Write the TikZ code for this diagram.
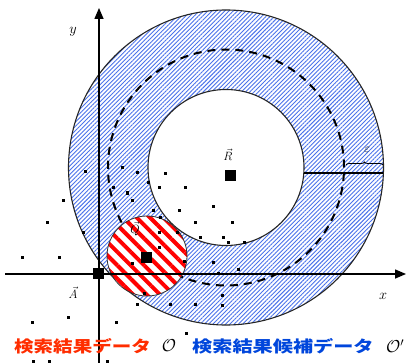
\documentclass[tikz,border=0pt]{standalone}
\usepackage{fontspec}
\usepackage{graphicx}
\usetikzlibrary{patterns.meta,arrows.meta,decorations.pathreplacing}
\newfontfamily\cjk{Noto Sans CJK JP}
\definecolor{hatchblue}{RGB}{75,115,235}
\definecolor{txtred}{RGB}{255,45,0}
\definecolor{txtblue}{RGB}{0,70,220}
\tikzset{
  ringline/.style={draw=black!85, line width=1.1pt},
  dotmark/.style={rectangle, fill=black, minimum size=3pt, inner sep=0pt},
  bigmark/.style={rectangle, fill=black, minimum size=11pt, inner sep=0pt},
  axis/.style={line width=1.5pt, -{Triangle[length=11pt,width=9pt]}},
  vlabel/.style={inner sep=0pt, font=\fontsize{13}{15}\selectfont},
  jptext/.style={anchor=west, inner sep=0pt, font=\fontsize{16}{18}\selectfont\cjk\bfseries},
}
\begin{document}
\begin{tikzpicture}[x=1pt,y=-1pt]
\useasboundingbox (0,0) rectangle (406,363);
\fill[white] (0,0) rectangle (406,363);
\coordinate (C) at (226,167.5);
% ring
\path[pattern={Lines[angle=45,distance=3pt,line width=0.9pt]}, pattern color=hatchblue, even odd rule]
  (C) circle[radius=157.5pt] (C) circle[radius=78pt];
\draw[ringline] (C) circle[radius=157.5pt];
\draw[ringline] (C) circle[radius=78pt];
\draw[line width=2pt, dash pattern=on 8pt off 6pt] (C) circle[radius=118pt];
% epsilon segment
\coordinate (ein) at (304,173);
\coordinate (eout) at (383,173);
\draw[line width=2pt] (ein) -- (eout);
\coordinate (bl) at (346,165);
\coordinate (br) at (383,165);
\draw[line width=0.8pt, decorate, decoration={brace, amplitude=3pt}] (bl) -- (br);
\node[vlabel] (eps) at (367,150) {$\varepsilon$};
% Q circle
\coordinate (QC) at (147,256);
\fill[white] (QC) circle[radius=40pt];
\path[pattern={Lines[angle=-45,distance=9.5pt,line width=4pt]}, pattern color=red] (QC) circle[radius=40pt];
\draw[line width=0.8pt, black!80] (QC) circle[radius=40pt];
% axes
\coordinate (xs) at (5,274);
\coordinate (xe) at (406,274);
\coordinate (ys) at (99,363);
\coordinate (ye) at (99,8);
\draw[axis] (xs) -- (xe);
\draw[axis] (ys) -- (ye);
\node[vlabel, font=\fontsize{14}{16}\selectfont] (ylab) at (73,32) {$y$};
\node[vlabel, font=\fontsize{14}{16}\selectfont] (xlab) at (383,296) {$x$};
% dots
\foreach \px/\py [count=\i] in {22/257,59/257,47/222,63/200,83/232,85/172,
  32/322,68/317,116/322,33/361,49/361,107/361,
  137/304,144/293,170/304,195/304,222/295,222/305,186/333,
  132/263,159/247,184/261,213/262,218/273,238/269,
  122/168,137/173,113/188,127/193,132/200,148/183,153/210,160/217,159/188,165/174,
  185/188,179/210,213/206,195/222,232/222,159/232,177/232,200/237,223/237,228/242,244/242}
  \node[dotmark] (d\i) at (\px,\py) {};
% big marks
\node[bigmark] (A) at (98,273) {};
\node[bigmark] (Q) at (146,257) {};
\node[bigmark] (R) at (230,176) {};
\node[vlabel] (Alab) at (73,293) {$\vec{A}$};
\node[vlabel] (Qlab) at (135,229) {$\vec{Q}$};
\node[vlabel] (Rlab) at (228,155) {$\vec{R}$};
% legend
\node[jptext, text=txtred] (t1) at (14,346) {\scalebox{1.22}[1]{検索結果データ}};
\node[inner sep=0pt, font=\fontsize{18}{20}\selectfont] (o1) at (169,346) {$\mathcal{O}$};
\node[jptext, text=txtblue] (t2) at (192,346) {\scalebox{1.26}[1]{検索結果候補データ}};
\node[inner sep=0pt, font=\fontsize{18}{20}\selectfont, anchor=west] (o2) at (386,346) {$\mathcal{O}'$};
\end{tikzpicture}
\end{document}
